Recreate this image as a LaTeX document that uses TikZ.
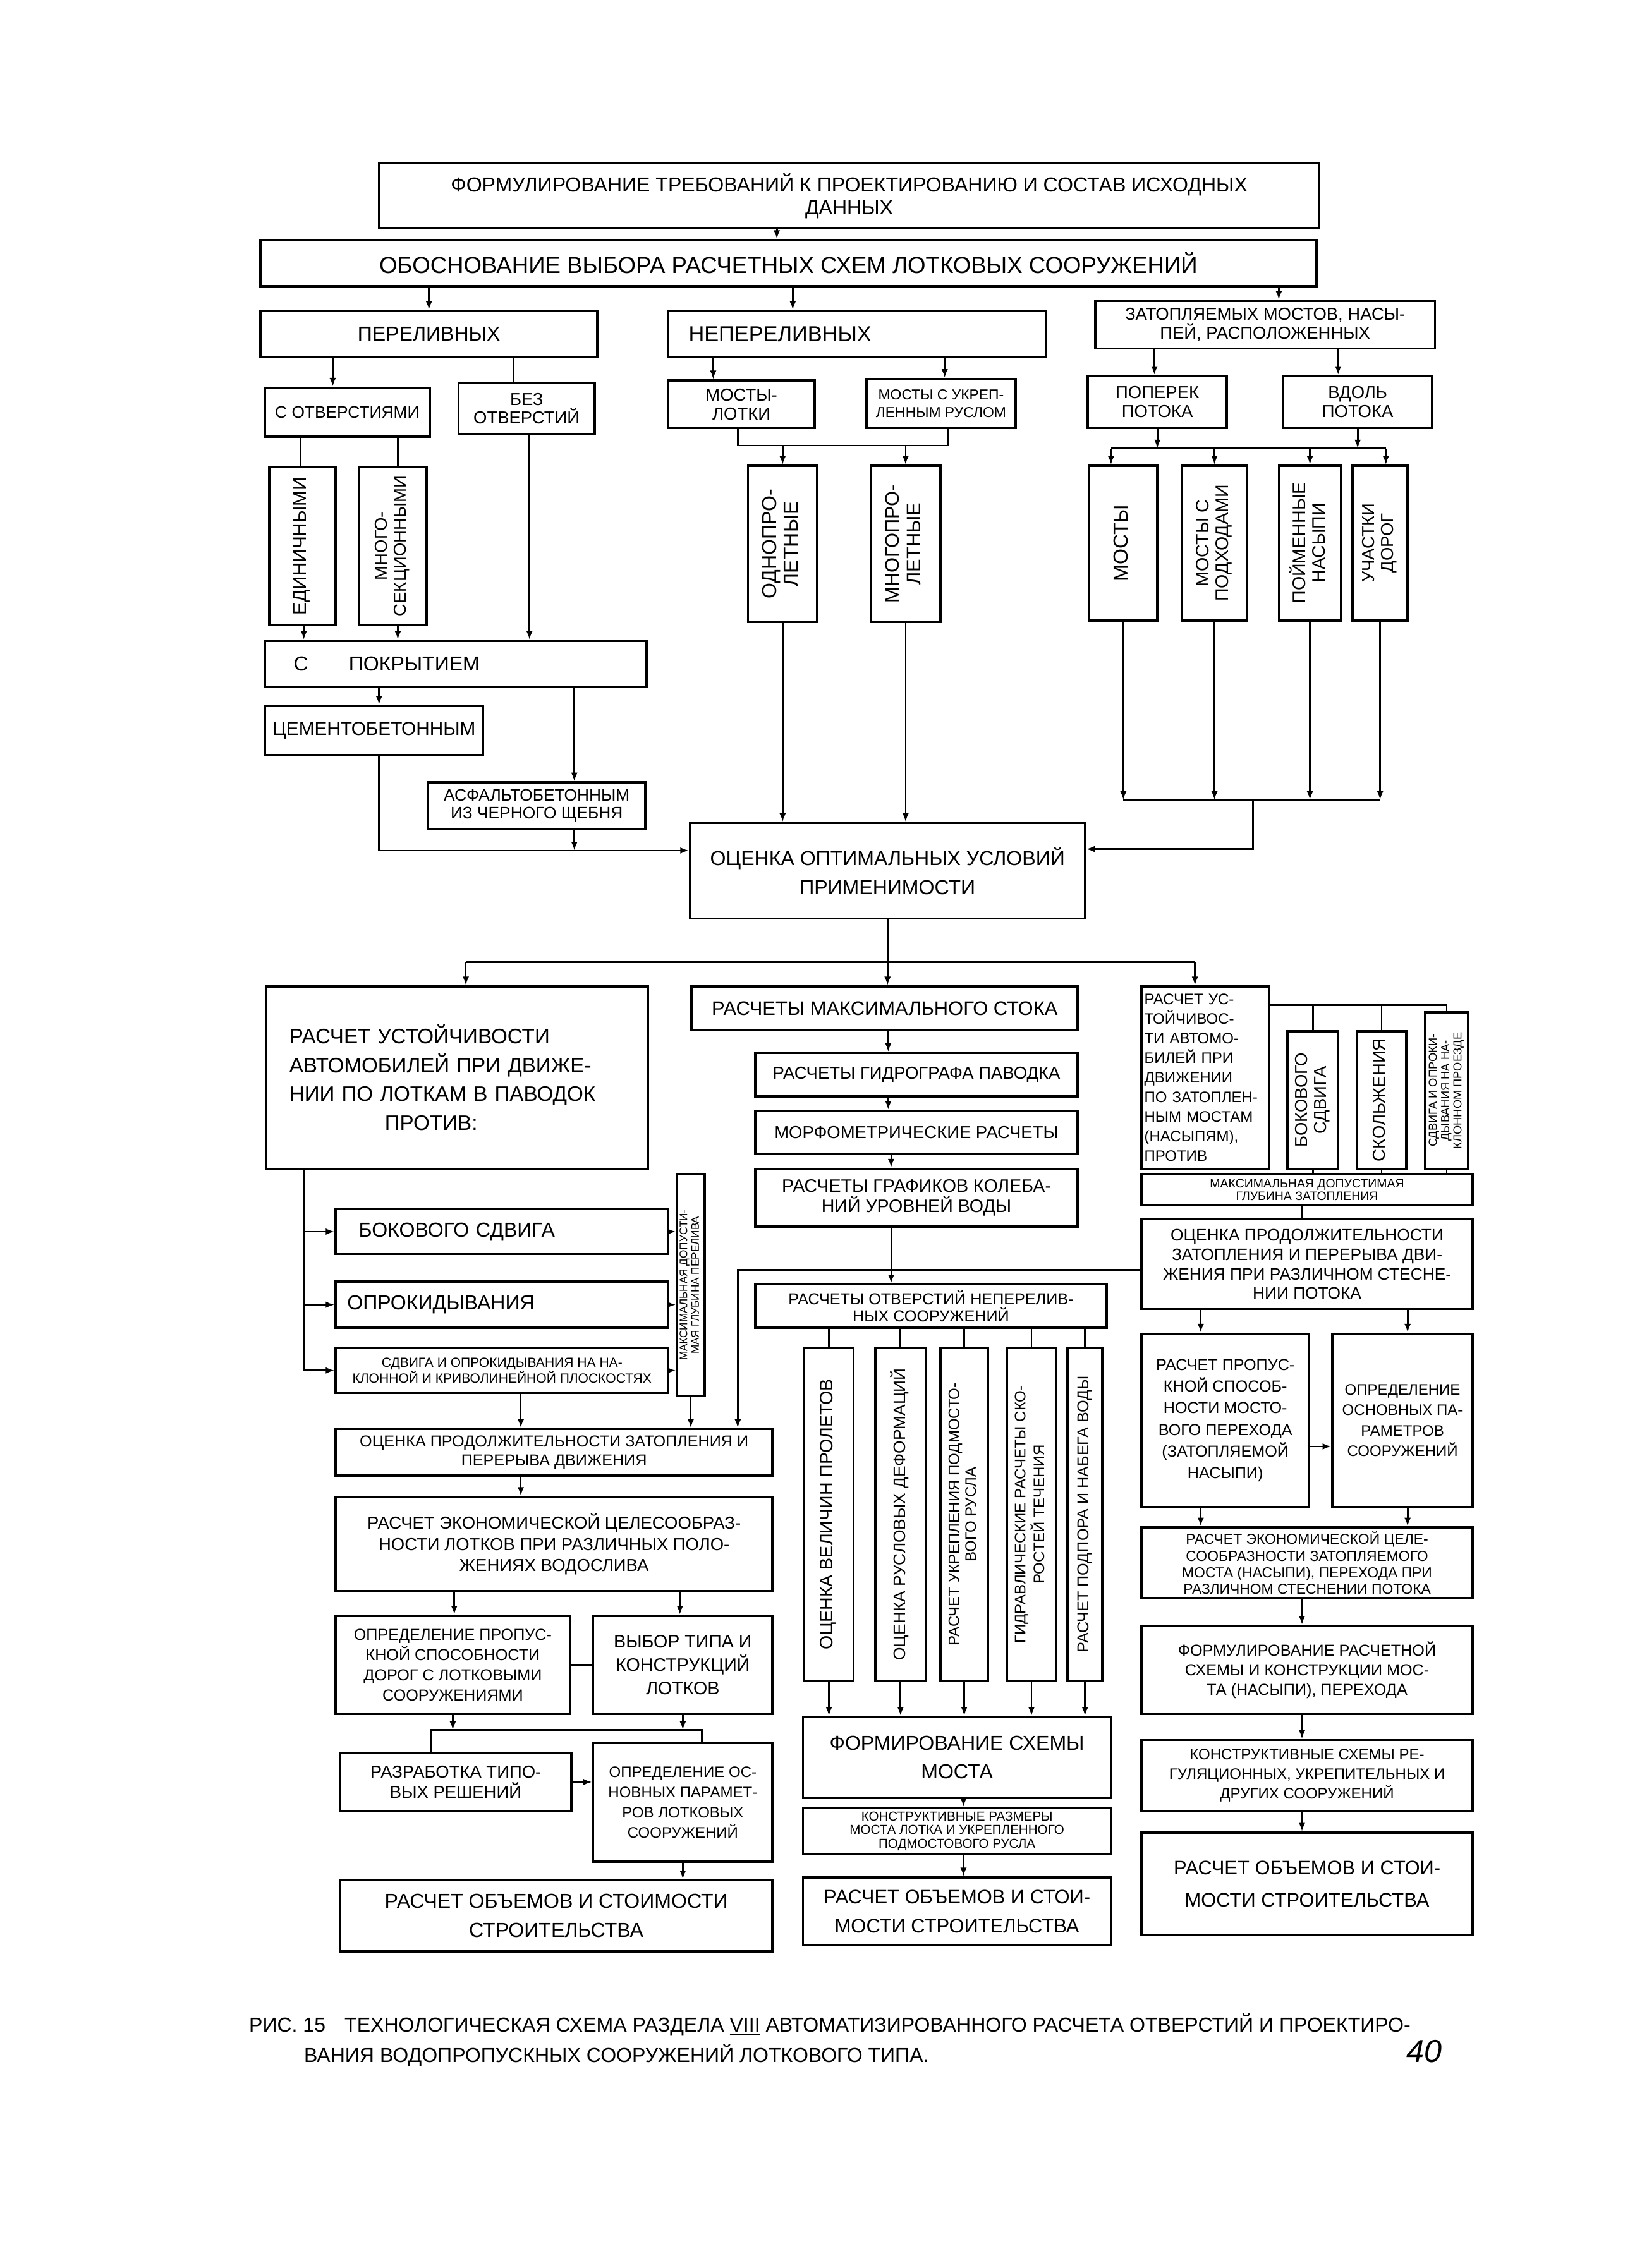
\documentclass[tikz,border=0pt]{standalone}
\usepackage{fontspec}
\setmainfont{Liberation Sans}
\usepackage{graphicx}
\usetikzlibrary{calc,arrows.meta}
\newcommand\myfs[2]{\fontsize{#1}{#2}\selectfont}
\newcommand\vt[1]{\rotatebox{90}{\begin{tabular}{@{}c@{}}#1\end{tabular}}}
\begin{document}
\begin{tikzpicture}[x=1pt,y=-1pt,
  box/.style={draw,line width=1.6pt,inner sep=2pt,align=center},
  lbox/.style={box,align=left},
  arr/.style={line width=1.2pt,-{Latex[length=6pt,width=4.5pt]}},
  ln/.style={line width=1.2pt}]
\useasboundingbox (0,0) rectangle (1135,1568);
\fill[white] (0,0) rectangle (1135,1568);

% ---- top part
\node[box,minimum width=650pt,minimum height=45pt,font=\myfs{14}{15.5}] (top) at (587,135.5) {ФОРМУЛИРОВАНИЕ ТРЕБОВАНИЙ К ПРОЕКТИРОВАНИЮ И СОСТАВ ИСХОДНЫХ\\ДАННЫХ};
\node[box,minimum width=730pt,minimum height=32pt,font=\myfs{16}{18}] (obosn) at (545,182) {ОБОСНОВАНИЕ ВЫБОРА РАСЧЕТНЫХ СХЕМ ЛОТКОВЫХ СООРУЖЕНИЙ};
\node[box,minimum width=233pt,minimum height=32pt,font=\myfs{14}{16}] (perel) at (296.5,231) {ПЕРЕЛИВНЫХ};
\node[lbox,text width=257pt,minimum height=32pt,font=\myfs{15}{17}] (neperel) at (592.5,231) {\hspace*{12pt}НЕПЕРЕЛИВНЫХ};
\node[box,minimum width=235pt,minimum height=33pt,font=\myfs{12}{13}] (zatop) at (874.5,224.5) {ЗАТОПЛЯЕМЫХ МОСТОВ, НАСЫ-\\ПЕЙ, РАСПОЛОЖЕННЫХ};

\node[box,minimum width=114pt,minimum height=34pt,font=\myfs{11.5}{13}] (sotv) at (240,285) {С ОТВЕРСТИЯМИ};
\node[box,minimum width=94pt,minimum height=35pt,font=\myfs{12}{13}] (bezotv) at (364,282.5) {БЕЗ\\ОТВЕРСТИЙ};
\node[box,minimum width=101pt,minimum height=33pt,font=\myfs{12}{13}] (mostlot) at (512.5,279.5) {МОСТЫ-\\ЛОТКИ};
\node[box,minimum width=103pt,minimum height=34pt,font=\myfs{10}{12}] (mostukr) at (650.5,279) {МОСТЫ С УКРЕП-\\ЛЕННЫМ РУСЛОМ};
\node[box,minimum width=96pt,minimum height=36pt,font=\myfs{12}{13}] (poperek) at (800,278) {ПОПЕРЕК\\ПОТОКА};
\node[box,minimum width=103pt,minimum height=36pt,font=\myfs{12}{13}] (vdol) at (938.5,278) {ВДОЛЬ\\ПОТОКА};

\node[box,minimum width=46pt,minimum height=109pt,font=\myfs{13}{14}] (edin) at (209,377.5) {\vt{ЕДИНИЧНЫМИ}};
\node[box,minimum width=47pt,minimum height=109pt,font=\myfs{12}{13}] (mnogosek) at (271.5,377.5) {\vt{МНОГО-\\СЕКЦИОННЫМИ}};
\node[box,minimum width=48pt,minimum height=108pt,font=\myfs{14}{15}] (odnopr) at (541,376) {\vt{ОДНОПРО-\\ЛЕТНЫЕ}};
\node[box,minimum width=48pt,minimum height=108pt,font=\myfs{13.5}{15}] (mnogopr) at (626,376) {\vt{МНОГОПРО-\\ЛЕТНЫЕ}};
\node[box,minimum width=47pt,minimum height=107pt,font=\myfs{14}{15}] (mosty) at (776.5,375.5) {\vt{МОСТЫ}};
\node[box,minimum width=45pt,minimum height=107pt,font=\myfs{12.5}{13.5}] (mostpod) at (839.5,375.5) {\vt{МОСТЫ С\\ПОДХОДАМИ}};
\node[box,minimum width=43pt,minimum height=107pt,font=\myfs{12.5}{13.5}] (poim) at (905.5,375.5) {\vt{ПОЙМЕННЫЕ\\НАСЫПИ}};
\node[box,minimum width=38pt,minimum height=107pt,font=\myfs{12}{13}] (uchast) at (954,375.5) {\vt{УЧАСТКИ\\ДОРОГ}};

\node[lbox,text width=260pt,minimum height=32pt,font=\myfs{14}{16}] (spokr) at (315,459) {\hspace*{18pt}С\hspace{28pt}ПОКРЫТИЕМ};
\node[box,minimum width=151pt,minimum height=34pt,font=\myfs{13}{15}] (cement) at (258.5,505) {ЦЕМЕНТОБЕТОННЫМ};
\node[box,minimum width=150pt,minimum height=32pt,font=\myfs{11.5}{12.5}] (asfalt) at (371,557) {АСФАЛЬТОБЕТОННЫМ\\ИЗ ЧЕРНОГО ЩЕБНЯ};
\node[box,minimum width=273pt,minimum height=66pt,font=\myfs{14}{20}] (ocenka) at (613.5,602) {ОЦЕНКА ОПТИМАЛЬНЫХ УСЛОВИЙ\\ПРИМЕНИМОСТИ};

% ---- left middle
\node[lbox,text width=260pt,minimum height=126pt,font=\myfs{14.5}{20}] (rasust) at (316,745) {\hspace*{14pt}РАСЧЕТ УСТОЙЧИВОСТИ\\\hspace*{14pt}АВТОМОБИЛЕЙ ПРИ ДВИЖЕ-\\\hspace*{14pt}НИИ ПО ЛОТКАМ В ПАВОДОК\\\hspace*{80pt}ПРОТИВ:};
\node[lbox,text width=226pt,minimum height=31pt,font=\myfs{14}{16}] (bokov) at (347,851.5) {\hspace*{14pt}БОКОВОГО СДВИГА};
\node[lbox,text width=226pt,minimum height=32pt,font=\myfs{14}{16}] (oprok) at (347,902) {\hspace*{6pt}ОПРОКИДЫВАНИЯ};
\node[box,minimum width=230pt,minimum height=31pt,font=\myfs{9.2}{11}] (sdvig) at (347,947.5) {СДВИГА И ОПРОКИДЫВАНИЯ НА НА-\\КЛОННОЙ И КРИВОЛИНЕЙНОЙ ПЛОСКОСТЯХ};
\node[box,inner sep=1pt,minimum width=19pt,minimum height=153pt,font=\myfs{7.5}{8}] (maxper) at (477.5,888.5) {\vt{МАКСИМАЛЬНАЯ ДОПУСТИ-\\МАЯ ГЛУБИНА ПЕРЕЛИВА}};

% ---- middle column
\node[box,minimum width=267pt,minimum height=30pt,font=\myfs{13.5}{15}] (rasmax) at (611.5,697) {РАСЧЕТЫ МАКСИМАЛЬНОГО СТОКА};
\node[box,minimum width=223pt,minimum height=30pt,font=\myfs{12}{14}] (gidro) at (633.5,743) {РАСЧЕТЫ ГИДРОГРАФА ПАВОДКА};
\node[box,minimum width=223pt,minimum height=30pt,font=\myfs{12}{14}] (morf) at (633.5,783) {МОРФОМЕТРИЧЕСКИЕ РАСЧЕТЫ};
\node[box,minimum width=223pt,minimum height=40pt,font=\myfs{12.5}{14}] (graf) at (633.5,828) {РАСЧЕТЫ ГРАФИКОВ КОЛЕБА-\\НИЙ УРОВНЕЙ ВОДЫ};
\node[box,minimum width=243pt,minimum height=30pt,font=\myfs{11}{12}] (otv) at (643.5,903) {РАСЧЕТЫ ОТВЕРСТИЙ НЕПЕРЕЛИВ-\\НЫХ СООРУЖЕНИЙ};
\node[box,minimum width=34pt,minimum height=230pt,font=\myfs{12.5}{14}] (v1) at (573,1047) {\vt{ОЦЕНКА ВЕЛИЧИН ПРОЛЕТОВ}};
\node[box,minimum width=35pt,minimum height=230pt,font=\myfs{11.5}{13}] (v2) at (622.5,1047) {\vt{ОЦЕНКА РУСЛОВЫХ ДЕФОРМАЦИЙ}};
\node[box,minimum width=33pt,minimum height=230pt,font=\myfs{10.5}{11.5}] (v3) at (666.5,1047) {\vt{РАСЧЕТ УКРЕПЛЕНИЯ ПОДМОСТО-\\ВОГО РУСЛА}};
\node[box,minimum width=34pt,minimum height=230pt,font=\myfs{10.5}{11.5}] (v4) at (713,1047) {\vt{ГИДРАВЛИЧЕСКИЕ РАСЧЕТЫ СКО-\\РОСТЕЙ ТЕЧЕНИЯ}};
\node[box,minimum width=24pt,minimum height=230pt,font=\myfs{11}{12}] (v5) at (750,1047) {\vt{РАСЧЕТ ПОДПОРА И НАБЕГА ВОДЫ}};
\node[box,minimum width=213pt,minimum height=56pt,font=\myfs{14}{20}] (form) at (661.5,1215) {ФОРМИРОВАНИЕ СХЕМЫ\\МОСТА};
\node[box,minimum width=213pt,minimum height=32pt,font=\myfs{9}{9.5}] (konstr) at (661.5,1266) {КОНСТРУКТИВНЫЕ РАЗМЕРЫ\\МОСТА ЛОТКА И УКРЕПЛЕННОГО\\ПОДМОСТОВОГО РУСЛА};
\node[box,minimum width=213pt,minimum height=47pt,font=\myfs{13.5}{20}] (rasob2) at (661.5,1321.5) {РАСЧЕТ ОБЪЕМОВ И СТОИ-\\МОСТИ СТРОИТЕЛЬСТВА};

% ---- right column
\node[lbox,text width=84pt,minimum height=126pt,font=\myfs{10.5}{13.5}] (rasus2) at (833,745) {РАСЧЕТ УС-\\ТОЙЧИВОС-\\ТИ АВТОМО-\\БИЛЕЙ ПРИ\\ДВИЖЕНИИ\\ПО ЗАТОПЛЕН-\\НЫМ МОСТАМ\\(НАСЫПЯМ),\\ПРОТИВ};
\node[box,minimum width=35pt,minimum height=95pt,font=\myfs{12}{13}] (bok2) at (907.5,760.5) {\vt{БОКОВОГО\\СДВИГА}};
\node[box,minimum width=34pt,minimum height=95pt,font=\myfs{12}{13}] (skol) at (955,760.5) {\vt{СКОЛЬЖЕНИЯ}};
\node[box,inner sep=1pt,minimum width=30pt,minimum height=108pt,font=\myfs{8}{8.5}] (sdv2) at (1000,754) {\vt{СДВИГА И ОПРОКИ-\\ДЫВАНИЯ НА НА-\\КЛОННОМ ПРОЕЗДЕ}};
\node[box,inner sep=1pt,minimum width=229pt,minimum height=21pt,font=\myfs{8.5}{9}] (maxzat) at (903.5,822.5) {МАКСИМАЛЬНАЯ ДОПУСТИМАЯ\\ГЛУБИНА ЗАТОПЛЕНИЯ};
\node[box,minimum width=229pt,minimum height=62pt,font=\myfs{11.5}{13.5}] (ocprod2) at (903.5,874) {ОЦЕНКА ПРОДОЛЖИТЕЛЬНОСТИ\\ЗАТОПЛЕНИЯ И ПЕРЕРЫВА ДВИ-\\ЖЕНИЯ ПРИ РАЗЛИЧНОМ СТЕСНЕ-\\НИИ ПОТОКА};
\node[box,minimum width=116pt,minimum height=120pt,font=\myfs{11}{15}] (propusk) at (847,982) {РАСЧЕТ ПРОПУС-\\КНОЙ СПОСОБ-\\НОСТИ МОСТО-\\ВОГО ПЕРЕХОДА\\(ЗАТОПЛЯЕМОЙ\\НАСЫПИ)};
\node[box,minimum width=97pt,minimum height=120pt,font=\myfs{10.5}{14}] (opredos) at (969.5,982) {ОПРЕДЕЛЕНИЕ\\ОСНОВНЫХ ПА-\\РАМЕТРОВ\\СООРУЖЕНИЙ};
\node[box,minimum width=229pt,minimum height=49pt,font=\myfs{10}{11.5}] (ekon2) at (903.5,1080.5) {РАСЧЕТ ЭКОНОМИЧЕСКОЙ ЦЕЛЕ-\\СООБРАЗНОСТИ ЗАТОПЛЯЕМОГО\\МОСТА (НАСЫПИ), ПЕРЕХОДА ПРИ\\РАЗЛИЧНОМ СТЕСНЕНИИ ПОТОКА};
\node[box,minimum width=229pt,minimum height=61pt,font=\myfs{11}{13.5}] (formul) at (903.5,1154.5) {ФОРМУЛИРОВАНИЕ РАСЧЕТНОЙ\\СХЕМЫ И КОНСТРУКЦИИ МОС-\\ТА (НАСЫПИ), ПЕРЕХОДА};
\node[box,minimum width=229pt,minimum height=49pt,font=\myfs{10.5}{13.5}] (konsch) at (903.5,1227.5) {КОНСТРУКТИВНЫЕ СХЕМЫ РЕ-\\ГУЛЯЦИОННЫХ, УКРЕПИТЕЛЬНЫХ И\\ДРУГИХ СООРУЖЕНИЙ};
\node[box,minimum width=229pt,minimum height=71pt,font=\myfs{13.5}{22}] (rasob3) at (903.5,1302.5) {РАСЧЕТ ОБЪЕМОВ И СТОИ-\\МОСТИ СТРОИТЕЛЬСТВА};

% ---- left bottom
\node[box,minimum width=302pt,minimum height=32pt,font=\myfs{11}{13}] (ocprod1) at (383,1004) {ОЦЕНКА ПРОДОЛЖИТЕЛЬНОСТИ ЗАТОПЛЕНИЯ И\\ПЕРЕРЫВА ДВИЖЕНИЯ};
\node[box,minimum width=302pt,minimum height=65pt,font=\myfs{12}{14.5}] (ekon1) at (383,1067.5) {РАСЧЕТ ЭКОНОМИЧЕСКОЙ ЦЕЛЕСООБРАЗ-\\НОСТИ ЛОТКОВ ПРИ РАЗЛИЧНЫХ ПОЛО-\\ЖЕНИЯХ ВОДОСЛИВА};
\node[box,minimum width=162pt,minimum height=68pt,font=\myfs{11}{14}] (oprpr) at (313,1151) {ОПРЕДЕЛЕНИЕ ПРОПУС-\\КНОЙ СПОСОБНОСТИ\\ДОРОГ С ЛОТКОВЫМИ\\СООРУЖЕНИЯМИ};
\node[box,minimum width=124pt,minimum height=68pt,font=\myfs{12.5}{16}] (vybor) at (472,1151) {ВЫБОР ТИПА И\\КОНСТРУКЦИЙ\\ЛОТКОВ};
\node[box,minimum width=160pt,minimum height=40pt,font=\myfs{12}{14}] (razrab) at (315,1232) {РАЗРАБОТКА ТИПО-\\ВЫХ РЕШЕНИЙ};
\node[box,minimum width=124pt,minimum height=82pt,font=\myfs{10.5}{14}] (opros1) at (472,1246) {ОПРЕДЕЛЕНИЕ ОС-\\НОВНЫХ ПАРАМЕТ-\\РОВ ЛОТКОВЫХ\\СООРУЖЕНИЙ};
\node[box,minimum width=299pt,minimum height=49pt,font=\myfs{14}{20}] (rasob1) at (384.5,1324.5) {РАСЧЕТ ОБЪЕМОВ И СТОИМОСТИ\\СТРОИТЕЛЬСТВА};

% ---- caption
\node[anchor=west,inner sep=0pt,font=\myfs{14}{16}] (capnum) at (172,1400) {РИС. 15};
\node[anchor=west,inner sep=0pt,font=\myfs{14}{16}] (cap1) at (238,1400) {ТЕХНОЛОГИЧЕСКАЯ СХЕМА РАЗДЕЛА \ensuremath{\overline{\underline{\hbox{VIII}}}} АВТОМАТИЗИРОВАННОГО РАСЧЕТА ОТВЕРСТИЙ И ПРОЕКТИРО-};
\node[anchor=west,inner sep=0pt,font=\myfs{14}{16}] (cap2) at (210,1421) {ВАНИЯ ВОДОПРОПУСКНЫХ СООРУЖЕНИЙ ЛОТКОВОГО ТИПА.};
\node[anchor=west,inner sep=0pt,font=\myfs{22}{24}\itshape] (pnum) at (972,1418) {40};

% ---- connectors: top
\draw[arr] ($(top.south)+(-50,0)$) -- ($(obosn.north)+(-8,0)$);
\draw[arr] (obosn.south -| perel.north) -- (perel.north);
\draw[arr] ($(obosn.south)+(3,0)$) -- ($(neperel.north)+(-44.5,0)$);
\draw[arr] ($(obosn.south)+(339,0)$) -- ($(zatop.north)+(9.5,0)$);
\draw[arr] ($(perel.south)+(-66.5,0)$) -- ($(sotv.north)+(-10,0)$);
\draw[ln] ($(perel.south)+(58.5,0)$) -- ($(bezotv.north)+(-9,0)$);
\draw[ln] ($(sotv.south)+(-32,0)$) -- ($(edin.north)+(-1,0)$);
\draw[ln] ($(sotv.south)+(35,0)$) -- ($(mnogosek.north)+(3.5,0)$);
\draw[arr] ($(edin.south)+(1,0)$) -- ($(spokr.north)+(-105,0)$);
\draw[arr] ($(mnogosek.south)+(3.5,0)$) -- ($(spokr.north)+(-40,0)$);
\draw[arr] ($(bezotv.south)+(2,0)$) -- ($(spokr.north)+(51,0)$);
\draw[arr] ($(spokr.south)+(-53,0)$) -- ($(cement.north)+(3.5,0)$);
\draw[arr] ($(spokr.south)+(82,0)$) -- ($(asfalt.north)+(26,0)$);
\coordinate (j1) at (397,588);
\draw[arr] ($(cement.south)+(3.5,0)$) |- ($(ocenka.west)+(0,-14)$);
\draw[arr] ($(asfalt.south)+(26,0)$) -- (j1);

\draw[arr] ($(neperel.south)+(-99.5,0)$) -- ($(mostlot.north)+(-19.5,0)$);
\draw[arr] ($(neperel.south)+(60.5,0)$) -- ($(mostukr.north)+(2.5,0)$);
\coordinate (h1) at (510,308);
\coordinate (h2) at (655,308);
\draw[ln] ($(mostlot.south)+(-2.5,0)$) |- (h2) -- ($(mostukr.south)+(4.5,0)$);
\draw[arr] (odnopr.north |- h1) -- (odnopr.north);
\draw[arr] (mnogopr.north |- h1) -- (mnogopr.north);
\draw[arr] (odnopr.south) -- (odnopr.south |- ocenka.north);
\draw[arr] (mnogopr.south) -- (mnogopr.south |- ocenka.north);

\draw[arr] ($(zatop.south)+(-76.5,0)$) -- ($(poperek.north)+(-2,0)$);
\draw[arr] ($(zatop.south)+(50.5,0)$) -- ($(vdol.north)+(-13.5,0)$);
\coordinate (h3) at (768,310);
\coordinate (h4) at (958,310);
\draw[ln] (h3) -- (h4);
\draw[arr] (poperek.south) -- (poperek.south |- h3);
\draw[arr] (vdol.south) -- (vdol.south |- h3);
\draw[arr] (h3) -- (h3 |- mosty.north);
\draw[arr] (mostpod.north |- h3) -- (mostpod.north);
\draw[arr] (poim.north |- h3) -- (poim.north);
\draw[arr] (h4) -- (h4 |- uchast.north);
\coordinate (h5) at (776.5,553);
\coordinate (h6) at (954,553);
\coordinate (h7) at (866,553);
\draw[ln] (h5) -- (h6);
\foreach \b in {mosty,mostpod,poim,uchast} {\draw[arr] (\b.south) -- (\b.south |- h5);}
\draw[arr] (h7) |- ($(ocenka.east)+(0,-15)$);

% ---- from ocenka
\coordinate (h8) at (322,665);
\coordinate (h9) at (826,665);
\draw[ln] (ocenka.south) -- (ocenka.south |- h8);
\draw[ln] (h8) -- (h9);
\draw[arr] (h8) -- (h8 |- rasust.north);
\draw[arr] (ocenka.south |- h8) -- (ocenka.south |- rasmax.north);
\draw[arr] (h9) -- (h9 |- rasus2.north);

% ---- left middle
\coordinate (h10) at (210,948);
\draw[arr] (rasust.south -| h10) |- (sdvig.west);
\draw[arr] (bokov.west -| h10) -- (bokov.west);
\draw[arr] (oprok.west -| h10) -- (oprok.west);
\draw[arr] (bokov.east) -- (bokov.east -| maxper.west);
\draw[arr] (oprok.east) -- (oprok.east -| maxper.west);
\draw[arr] (sdvig.east) -- (sdvig.east -| maxper.west);
\draw[arr] (maxper.south) -- (maxper.south |- ocprod1.north);
\draw[arr] ($(sdvig.south)+(13,0)$) -- ($(ocprod1.north)+(-23,0)$);
\draw[arr] ($(ocprod2.west)+(0,4)$) -| ($(ocprod1.north)+(127,0)$);

% ---- middle column
\draw[arr] ($(rasmax.south)+(2.5,0)$) -- ($(gidro.north)+(-19.5,0)$);
\draw[arr] ($(gidro.south)+(-19.5,0)$) -- ($(morf.north)+(-19.5,0)$);
\draw[arr] ($(morf.south)+(-17.5,0)$) -- ($(graf.north)+(-17.5,0)$);
\draw[arr] ($(graf.south)+(-17.5,0)$) -- ($(otv.north)+(-27.5,0)$);
\foreach \v in {v1,v2,v3,v4,v5} {
  \draw[ln] (\v.north |- otv.south) -- (\v.north);
  \draw[arr] (\v.south) -- (\v.south |- form.north);
}
\draw[arr] ($(form.south)+(4.5,0)$) -- ($(konstr.north)+(4.5,0)$);
\draw[arr] ($(konstr.south)+(4.5,0)$) -- ($(rasob2.north)+(4.5,0)$);

% ---- right column
\coordinate (h11) at ($(rasus2.east)+(0,-50)$);
\draw[ln] (h11) -| (sdv2.north);
\draw[ln] (bok2.north |- h11) -- (bok2.north);
\draw[ln] (skol.north |- h11) -- (skol.north);
\foreach \b in {bok2,skol,sdv2} {\draw[ln] (\b.south) -- (\b.south |- maxzat.north);}
\draw[ln] ($(maxzat.south)+(-3.5,0)$) -- ($(ocprod2.north)+(-3.5,0)$);
\draw[arr] ($(ocprod2.south)+(-73.5,0)$) -- ($(propusk.north)+(-17,0)$);
\draw[arr] ($(ocprod2.south)+(69.5,0)$) -- ($(opredos.north)+(3.5,0)$);
\draw[arr] ($(propusk.east)+(0,18)$) -- ($(opredos.west)+(0,18)$);
\draw[arr] ($(propusk.south)+(-17,0)$) -- ($(ekon2.north)+(-73.5,0)$);
\draw[arr] ($(opredos.south)+(3.5,0)$) -- ($(ekon2.north)+(69.5,0)$);
\draw[arr] ($(ekon2.south)+(-3.5,0)$) -- ($(formul.north)+(-3.5,0)$);
\draw[arr] ($(formul.south)+(-3.5,0)$) -- ($(konsch.north)+(-3.5,0)$);
\draw[arr] ($(konsch.south)+(-3.5,0)$) -- ($(rasob3.north)+(-3.5,0)$);

% ---- left bottom
\draw[arr] ($(ocprod1.south)+(-23,0)$) -- ($(ekon1.north)+(-23,0)$);
\draw[arr] ($(ekon1.south)+(-69,0)$) -- ($(oprpr.north)+(1,0)$);
\draw[arr] ($(ekon1.south)+(87,0)$) -- ($(vybor.north)+(-2,0)$);
\draw[ln] (oprpr.east) -- (vybor.west);
\coordinate (h12) at (298,1196);
\coordinate (h13) at (485,1196);
\draw[ln] (h12 |- razrab.north) -- (h12) -- (h13) -- (h13 |- opros1.north);
\draw[arr] (oprpr.south) -- (oprpr.south |- h12);
\draw[arr] (vybor.south) -- (vybor.south |- h12);
\draw[arr] (razrab.east) -- (razrab.east -| opros1.west);
\draw[arr] (opros1.south) -- (opros1.south |- rasob1.north);
\end{tikzpicture}
\end{document}
